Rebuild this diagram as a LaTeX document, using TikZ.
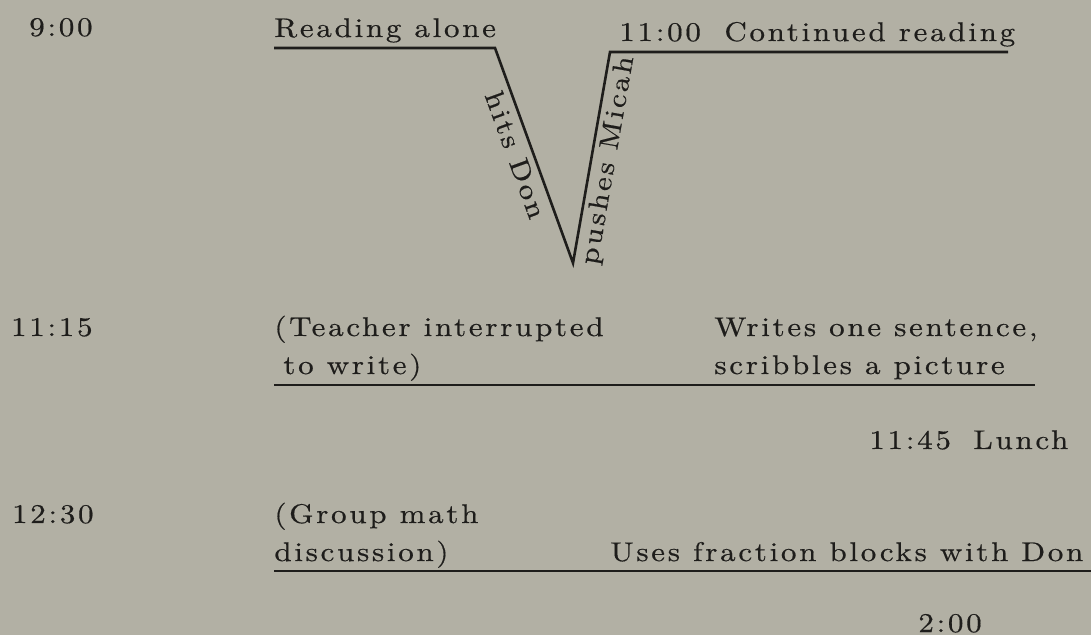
\documentclass[tikz,border=0pt]{standalone}
\usepackage{fontspec}
\newfontfamily\typed{lmroman10-regular.otf}[LetterSpace=10, FakeStretch=1.15, FakeBold=0.5]
\definecolor{paper}{RGB}{178,176,164}
\definecolor{ink}{RGB}{30,29,27}
\tikzset{%
    txt/.style   = {anchor=base west, inner sep=0pt, text=ink,
                    font=\typed\fontsize{13.5}{16}\selectfont},
    hora/.style  = {txt, anchor=base east},
    slant/.style = {sloped, inner sep=0pt, text=ink,
                    font=\typed\fontsize{13.5}{16}\selectfont},
    rule/.style  = {draw=ink, line width=1pt},
    vline/.style = {draw=ink, line width=1.3pt, line join=miter},
}

\begin{document}
\begin{tikzpicture}[x=0.5pt, y=-0.5pt]
    \fill[paper] (0,0) rectangle (1091,635);
    \useasboundingbox (0,0) rectangle (1091,635);

    % 9:00 -- 11:00
    \node (t900)  [hora] at (93,36)   {9:00};
    \node (read)  [txt]  at (274,37)  {Reading alone};
    \node (t1100) [txt]  at (619,41)  {11:00};
    \node (cont)  [txt]  at (724,41)  {Continued reading};

    \coordinate (a0) at (274,48);
    \coordinate (a1) at (495,48);
    \coordinate (vb) at (573,263);
    \coordinate (a2) at (610,52);
    \coordinate (a3) at (1008,52);
    \draw[vline] (a0) -- (a1)
        -- node[slant, below=3pt, pos=0.47] {hits Don} (vb)
        -- node[slant, below=2pt, pos=0.5] {pushes Micah} (a2)
        -- (a3);

    % 11:15 -- 11:45
    \node (t1115) [hora] at (93,336)  {11:15};
    \node (teach) [txt]  at (274,336) {(Teacher interrupted};
    \node (towr)  [txt]  at (283,374) {to write)};
    \node (wri)   [txt]  at (714,336) {Writes one sentence,};
    \node (scr)   [txt]  at (714,374) {scribbles a picture};
    \coordinate (b0) at (274,385);
    \coordinate (b1) at (1035,385);
    \draw[rule] (b0) -- (b1);

    \node (t1145) [txt]  at (869,449) {11:45};
    \node (lunch) [txt]  at (973,449) {Lunch};

    % 12:30 -- 2:00
    \node (t1230) [hora] at (94,523)  {12:30};
    \node (grp)   [txt]  at (274,523) {(Group math};
    \node (disc)  [txt]  at (274,561) {discussion)};
    \node (uses)  [txt]  at (610,561) {Uses fraction blocks with Don};
    \coordinate (c0) at (274,571);
    \coordinate (c1) at (1091,571);
    \draw[rule] (c0) -- (c1);

    \node (t200)  [txt]  at (918,632) {2:00};
\end{tikzpicture}
\end{document}
